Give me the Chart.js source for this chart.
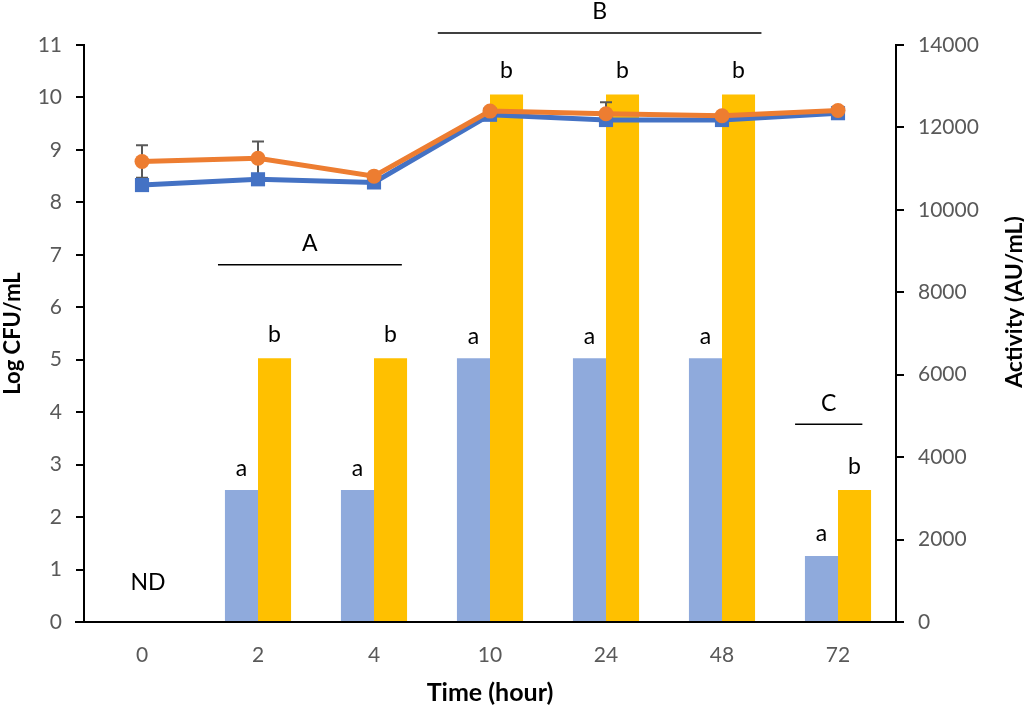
<!DOCTYPE html>
<html>
<head>
<meta charset="utf-8">
<script src="https://cdn.jsdelivr.net/npm/chart.js@4.4.0/dist/chart.umd.min.js"></script>
<style>
  html, body { margin: 0; padding: 0; background: #ffffff; }
  #wrap { width: 1024px; height: 708px; position: relative; }
</style>
</head>
<body>
<div id="wrap"><canvas id="c"></canvas></div>
<script>
// ---- data ----
const hours = ['0', '2', '4', '10', '24', '48', '72'];
const activityBlue = [0, 3200, 3200, 6400, 6400, 6400, 1600];
const activityYellow = [0, 6400, 6400, 12800, 12800, 12800, 3200];
const countBlue = [8.33, 8.44, 8.38, 9.67, 9.57, 9.57, 9.70];
const countOrange = [8.78, 8.84, 8.50, 9.74, 9.69, 9.65, 9.75];
const errBlue = [0.05, 0.05, 0.04, 0.04, 0.05, 0.05, 0.04];
const errOrange = [0.31, 0.32, 0.03, 0.04, 0.22, 0.04, 0.04];
const lettersBlue = ['', 'a', 'a', 'a', 'a', 'a', 'a'];
const lettersYellow = ['', 'b', 'b', 'b', 'b', 'b', 'b'];
const groupLabels = ['A', 'B', 'C'];
const groupFrom = [0.655, 2.55, 5.63];
const groupTo = [2.24, 5.34, 6.21];
const groupLevel = [6.81, 11.23, 3.77];
const ndLabel = 'ND';
const rightTitle = 'Activity (AU/mL)';

const FONT = 'Lato, "Open Sans", sans-serif';

const annotate = {
  id: 'annotate',
  afterDatasetDraw(chart, args) {
    // error bars drawn after the bars, beneath the line markers
    if (args.index !== 0) return;
    const ctx = chart.ctx;
    const ys = chart.scales.y;
    const sets = [[2, countBlue, errBlue], [3, countOrange, errOrange]];
    ctx.save();
    ctx.strokeStyle = '#595959';
    ctx.lineWidth = 2;
    sets.forEach(([di, vals, errs]) => {
      const meta = chart.getDatasetMeta(di);
      meta.data.forEach((pt, i) => {
        const top = ys.getPixelForValue(vals[i] + errs[i]);
        const bot = ys.getPixelForValue(vals[i] - errs[i]);
        ctx.beginPath();
        ctx.moveTo(pt.x, top); ctx.lineTo(pt.x, bot);
        ctx.moveTo(pt.x - 6, top); ctx.lineTo(pt.x + 6, top);
        ctx.moveTo(pt.x - 6, bot); ctx.lineTo(pt.x + 6, bot);
        ctx.stroke();
      });
    });
    ctx.restore();
  },
  afterDraw(chart) {
    const ctx = chart.ctx;
    const xs = chart.scales.x, ys = chart.scales.y;
    const a = chart.chartArea;
    ctx.save();
    // extend x axis slightly beyond y axes
    ctx.strokeStyle = '#000';
    ctx.lineWidth = 2;
    ctx.beginPath();
    ctx.moveTo(a.left - 9, a.bottom); ctx.lineTo(a.right + 7, a.bottom);
    ctx.stroke();

    ctx.fillStyle = '#000';
    ctx.font = '23px ' + FONT;
    ctx.textAlign = 'center';
    ctx.textBaseline = 'middle';
    // significance letters above bars
    const mB = chart.getDatasetMeta(0), mY = chart.getDatasetMeta(1);
    mB.data.forEach((b, i) => { if (lettersBlue[i]) ctx.fillText(lettersBlue[i], b.x, b.y - 22); });
    mY.data.forEach((b, i) => { if (lettersYellow[i]) ctx.fillText(lettersYellow[i], b.x, b.y - 24); });
    // ND label
    ctx.fillText(ndLabel, xs.getPixelForValue(0) + 6, ys.getPixelForValue(0.75));
    // group labels with lines
    const x0 = xs.getPixelForValue(0), step = xs.getPixelForValue(1) - x0;
    ctx.strokeStyle = '#000';
    ctx.lineWidth = 1.5;
    groupLabels.forEach((g, i) => {
      const xa = x0 + groupFrom[i] * step, xb = x0 + groupTo[i] * step;
      const y = ys.getPixelForValue(groupLevel[i]);
      ctx.beginPath(); ctx.moveTo(xa, y); ctx.lineTo(xb, y); ctx.stroke();
      ctx.fillText(g, (xa + xb) / 2, y - 21);
    });
    // right axis title, reading bottom to top
    ctx.font = 'bold 23px ' + FONT;
    ctx.translate(1015, ys.getPixelForValue(6.1));
    ctx.rotate(-Math.PI / 2);
    ctx.fillText(rightTitle, 0, 0);
    ctx.restore();
  }
};

new Chart(document.getElementById('c'), {
  data: {
    labels: hours,
    datasets: [
      { type: 'bar', label: 'Activity 1', data: activityBlue, yAxisID: 'y1',
        backgroundColor: '#8FAADC', order: 2, categoryPercentage: 0.57, barPercentage: 1.0 },
      { type: 'bar', label: 'Activity 2', data: activityYellow, yAxisID: 'y1',
        backgroundColor: '#FFC000', order: 3, categoryPercentage: 0.57, barPercentage: 1.0 },
      { type: 'line', label: 'Count 1', data: countBlue, yAxisID: 'y',
        borderColor: '#4472C4', backgroundColor: '#4472C4', borderWidth: 5,
        pointStyle: 'rect', pointRadius: 10, pointBorderWidth: 0, tension: 0, order: 1 },
      { type: 'line', label: 'Count 2', data: countOrange, yAxisID: 'y',
        borderColor: '#ED7D31', backgroundColor: '#ED7D31', borderWidth: 5,
        pointStyle: 'circle', pointRadius: 7.5, pointBorderWidth: 0, tension: 0, order: 0 }
    ]
  },
  options: {
    responsive: true,
    maintainAspectRatio: false,
    animation: false,
    layout: { padding: { top: 45, left: 0, right: 0, bottom: 0 } },
    plugins: { legend: { display: false }, tooltip: { enabled: false } },
    scales: {
      x: {
        offset: true,
        grid: { display: false, drawTicks: false },
        border: { display: true, color: '#000', width: 2 },
        ticks: { color: '#595959', font: { family: FONT, size: 21 }, padding: 21 },
        title: { display: true, text: 'Time (hour)', color: '#000',
                 font: { family: FONT, size: 25, weight: 'bold' }, padding: { top: 0, bottom: 0 } },
        afterFit(s) { s.height = 86; }
      },
      y: {
        position: 'left', min: 0, max: 11,
        ticks: { stepSize: 1, color: '#595959', font: { family: FONT, size: 21 }, padding: 14 },
        grid: { drawOnChartArea: false, drawTicks: true, tickLength: 8, color: '#000', lineWidth: 2 },
        border: { display: true, color: '#000', width: 2 },
        title: { display: true, text: 'Log CFU/mL', color: '#000',
                 font: { family: FONT, size: 22, weight: 'bold' }, padding: { top: 0, bottom: 0 } },
        afterFit(s) { s.width = 84; }
      },
      y1: {
        position: 'right', min: 0, max: 14000,
        ticks: { stepSize: 2000, color: '#595959', font: { family: FONT, size: 21 }, padding: 14,
                 callback: (v) => String(v) },
        grid: { drawOnChartArea: false, drawTicks: true, tickLength: 8, color: '#000', lineWidth: 2 },
        border: { display: true, color: '#000', width: 2 },
        afterFit(s) { s.width = 128; }
      }
    }
  },
  plugins: [annotate]
});
</script>
</body>
</html>
